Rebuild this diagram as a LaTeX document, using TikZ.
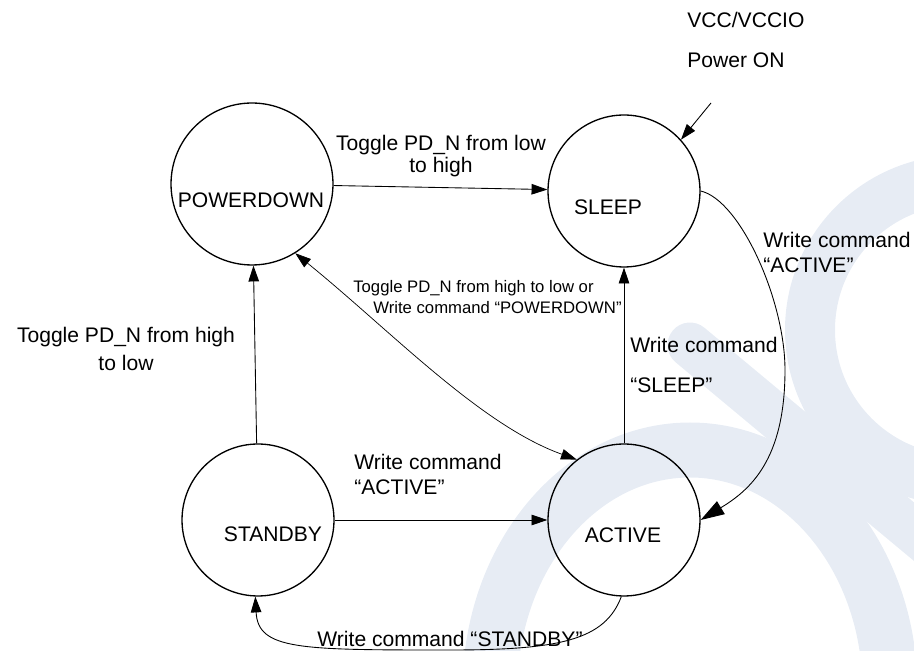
\documentclass[tikz,border=0pt]{standalone}
\usepackage{fontspec}
\setmainfont{Liberation Sans}
\usetikzlibrary{arrows.meta}
\definecolor{wmark}{RGB}{231,236,244}
\tikzset{
  state/.style={draw, circle, line width=0.75pt, minimum size=3.04cm, inner sep=0pt},
  arr/.style={-{Triangle[length=9pt,width=6pt]}, line width=0.5pt},
  lbl/.style={font=\fontsize{12}{14}\selectfont, inner sep=0pt},
}

\begin{document}
\begin{tikzpicture}[x=0.02cm, y=-0.02cm]
  \useasboundingbox (0,0) rectangle (914,651);

  % Watermark in the background
  \begin{scope}
    \clip (0,0) rectangle (914,651);
    \draw[wmark, line width=1.1cm] (690,690) ellipse [x radius=200, y radius=240];
    \draw[wmark, line width=0.9cm, line cap=round] (690,345) -- (960,570);
    \draw[wmark, line width=1.0cm] (960,330) circle [radius=150];
  \end{scope}

  % States
  \node[state, minimum size=3.24cm] (pd) at (252,184) {};
  \node[state] (sl) at (624,191) {};
  \node[state] (ac) at (624,520) {};
  \node[state] (sb) at (258,520) {};
  \node[lbl, anchor=base] (pdtxt) at (251,208) {POWERDOWN};
  \node[lbl, anchor=base] (sltxt) at (608,215) {SLEEP};
  \node[lbl, anchor=base] (actxt) at (623,543) {ACTIVE};
  \node[lbl, anchor=base] (sbtxt) at (273,542) {STANDBY};

  % Power on
  \coordinate (pwr) at (711,103);
  \node[lbl, align=left, anchor=west, font=\fontsize{12}{23.2}\selectfont] (vcc) at (687,40) {VCC/VCCIO\\Power ON};
  \draw[arr] (pwr) -- (sl.42);

  % Transitions
  \draw[arr] (pd) -- (sl);
  \draw[arr] (sb) -- (pd);
  \draw[arr] (sb) -- (ac);
  \draw[arr] (ac) -- (sl);
  \draw[arr, -{Triangle[length=13.5pt,width=8.5pt]}] (sl.east)
    .. controls (740,200) and (785,300) .. (785,370)
    .. controls (785,460) and (750,490) .. (ac.east);
  \draw[arr, {Triangle[length=9pt,width=6pt]}-{Triangle[length=9pt,width=6pt]}, line width=0.4pt]
    (pd.-58) .. controls (390,330) and (480,425) .. (ac.128);
  \draw[arr] (ac.-92) .. controls (605,640) and (560,650) .. (450,650)
    .. controls (300,650) and (258,650) .. (sb.-92);

  % Transition labels
  \node[lbl, align=center, font=\fontsize{12}{10.8}\selectfont] (lowhigh) at (441,156) {Toggle PD\_N from low\\to high};
  \node[lbl, align=center, font=\fontsize{12}{15.9}\selectfont] (highlow) at (126,349) {Toggle PD\_N from high\\to low};
  \node[lbl, align=left, anchor=west, font=\fontsize{9.5}{11.9}\selectfont] (pdcmd) at (353,297)
    {Toggle PD\_N from high to low or\\\hspace*{1.2em}Write command “POWERDOWN”};
  \node[lbl, align=left, anchor=west, font=\fontsize{12}{14.2}\selectfont] (sbcmd) at (354,474) {Write command\\“ACTIVE”};
  \node[lbl, align=left, anchor=west, font=\fontsize{12}{22.7}\selectfont] (slcmd) at (630,365) {Write command\\“SLEEP”};
  \node[lbl, align=left, anchor=west, font=\fontsize{12}{14.2}\selectfont] (accmd) at (763,252) {Write command\\“ACTIVE”};
  \node[lbl, anchor=base] (stcmd) at (450,647) {Write command “STANDBY”};
\end{tikzpicture}
\end{document}
